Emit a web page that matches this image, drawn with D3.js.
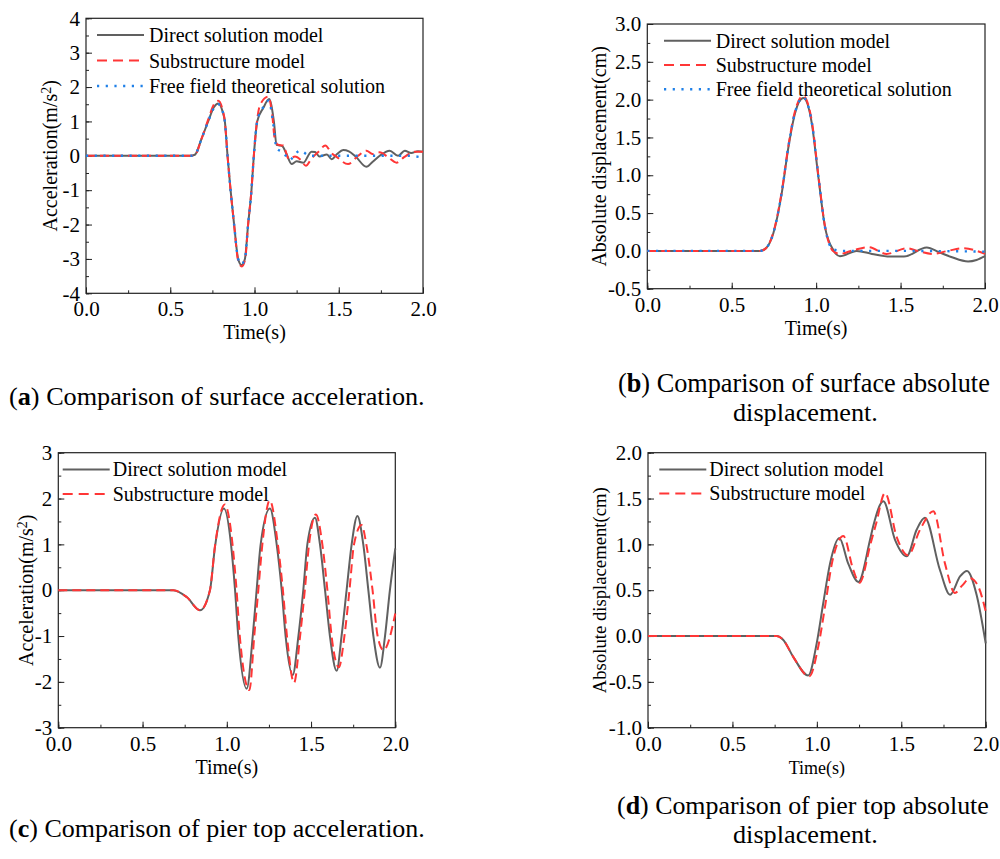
<!DOCTYPE html>
<html>
<head>
<meta charset="utf-8">
<script src="https://cdn.jsdelivr.net/npm/d3@7"></script>
<style>
  body { margin: 0; background: #fff; }
  svg { display: block; }
  text { font-family: "Liberation Serif", "Times New Roman", serif; fill: #000; }
</style>
</head>
<body>
<svg width="1000" height="859"></svg>
<script>
// ---- data ----
var xTicks = [0, 0.5, 1, 1.5, 2];
var aTicks = [-4, -3, -2, -1, 0, 1, 2, 3, 4];
var bTicks = [-0.5, 0, 0.5, 1, 1.5, 2, 2.5, 3];
var cTicks = [-3, -2, -1, 0, 1, 2, 3];
var dTicks = [-1, -0.5, 0, 0.5, 1, 1.5, 2];

var seriesNames = ['Direct solution model', 'Substructure model', 'Free field theoretical solution'];

// (a) surface acceleration, m/s2
var aDirectT = [0, 0.62, 0.646, 0.686, 0.725, 0.76, 0.785, 0.81, 0.824, 0.840, 0.858, 0.879, 0.903, 0.923, 0.943, 0.962, 0.982, 0.996, 1.016, 1.051, 1.087, 1.115, 1.131, 1.15, 1.165, 1.19, 1.22, 1.25, 1.29, 1.338, 1.36, 1.385, 1.43, 1.457, 1.49, 1.526, 1.56, 1.60, 1.664, 1.70, 1.743, 1.802, 1.852, 1.892, 1.93, 1.97, 2.0];
var aDirectV = [0, 0, 0.03, 0.5, 1.0, 1.42, 1.52, 1.3, 1.0, 0, -1.0, -2.0, -3.0, -3.18, -3.0, -2.0, -1.0, 0, 1.0, 1.38, 1.65, 1.0, 0.32, 0.3, 0.28, 0.05, -0.24, -0.16, -0.2, 0.12, 0.11, -0.02, 0.04, -0.1, 0.05, 0.17, 0.13, -0.02, -0.32, -0.18, 0.0, 0.15, 0.0, 0.15, 0.08, 0.13, 0.12];
var aSubT = [0, 0.62, 0.646, 0.686, 0.725, 0.76, 0.785, 0.81, 0.824, 0.840, 0.858, 0.879, 0.903, 0.925, 0.945, 0.962, 0.982, 0.996, 1.016, 1.032, 1.081, 1.105, 1.12, 1.14, 1.17, 1.205, 1.24, 1.275, 1.305, 1.338, 1.38, 1.42, 1.457, 1.487, 1.555, 1.615, 1.664, 1.70, 1.743, 1.79, 1.843, 1.89, 1.95, 2.0];
var aSubV = [0, 0, 0.02, 0.5, 1.05, 1.5, 1.6, 1.35, 1.0, 0, -1.0, -2.0, -3.05, -3.22, -3.0, -2.0, -1.0, 0, 1.05, 1.47, 1.72, 1.2, 0.5, 0.32, 0.3, -0.1, -0.02, -0.12, -0.29, -0.08, 0.12, 0.3, 0.08, -0.03, -0.24, 0.0, 0.15, 0.05, 0.1, -0.03, -0.2, -0.03, 0.12, 0.12];
var aFreeT = [0, 0.62, 0.646, 0.686, 0.725, 0.76, 0.785, 0.81, 0.824, 0.840, 0.858, 0.879, 0.903, 0.922, 0.943, 0.962, 0.982, 0.996, 1.016, 1.05, 1.085, 1.111, 1.131, 1.17, 1.21, 1.24, 1.27, 1.33, 1.9, 2.0];
var aFreeV = [0, 0, 0.03, 0.5, 1.0, 1.4, 1.5, 1.3, 1.0, 0, -1.0, -2.0, -3.0, -3.15, -3.0, -2.0, -1.0, 0, 1.0, 1.4, 1.6, 0.94, 0.22, 0.1, -0.12, 0.05, 0.15, 0, 0, -0.05];

// (b) surface absolute displacement, cm
var bDirectT = [0, 0.667, 0.70, 0.746, 0.796, 0.835, 0.875, 0.924, 0.974, 1.013, 1.052, 1.102, 1.141, 1.24, 1.33, 1.437, 1.52, 1.655, 1.73, 1.80, 1.90, 1.95, 2.0];
var bDirectV = [0, 0, 0.03, 0.23, 0.76, 1.36, 1.82, 2.02, 1.69, 0.98, 0.32, 0.01, -0.07, 0.0, -0.04, -0.075, -0.075, 0.044, -0.02, -0.08, -0.14, -0.12, -0.07];
var bSubT = [0, 0.667, 0.70, 0.746, 0.796, 0.835, 0.875, 0.922, 0.974, 1.013, 1.052, 1.10, 1.141, 1.22, 1.31, 1.418, 1.536, 1.60, 1.69, 1.78, 1.87, 2.0];
var bSubV = [0, 0, 0.03, 0.24, 0.78, 1.38, 1.85, 2.05, 1.72, 1.0, 0.33, 0.0, -0.04, 0.01, 0.05, -0.04, 0.035, 0.0, -0.04, 0.0, 0.035, -0.04];
var bFreeT = [0, 0.667, 0.70, 0.746, 0.796, 0.835, 0.875, 0.924, 0.974, 1.013, 1.052, 1.10, 1.16, 1.5, 2.0];
var bFreeV = [0, 0, 0.03, 0.23, 0.77, 1.37, 1.83, 2.03, 1.7, 0.99, 0.32, 0.02, 0.0, 0.0, -0.01];

// (c) pier top acceleration, m/s2
var cDirectT = [0, 0.683, 0.762, 0.841, 0.9, 0.93, 0.983, 1.025, 1.049, 1.068, 1.118, 1.154, 1.177, 1.201, 1.256, 1.296, 1.326, 1.349, 1.391, 1.425, 1.454, 1.478, 1.523, 1.553, 1.583, 1.612, 1.652, 1.681, 1.711, 1.741, 1.775, 1.81, 1.84, 1.87, 1.909, 1.939, 1.968, 2.0];
var cDirectV = [0, 0, -0.15, -0.44, 0, 0.95, 1.78, 1, 0, -1, -2.15, -1, 0, 1, 1.78, 1, 0, -1, -1.85, -1, 0, 1, 1.58, 1, 0, -1, -1.76, -1, 0, 1, 1.62, 1, 0, -1, -1.69, -1, 0, 0.91];
var cSubT = [0, 0.683, 0.762, 0.841, 0.9, 0.93, 0.988, 1.034, 1.058, 1.077, 1.134, 1.163, 1.187, 1.211, 1.255, 1.303, 1.333, 1.357, 1.399, 1.435, 1.463, 1.488, 1.529, 1.567, 1.597, 1.622, 1.665, 1.698, 1.728, 1.755, 1.80, 1.828, 1.865, 1.895, 1.93, 2.0];
var cSubV = [0, 0, -0.15, -0.44, 0, 0.97, 1.87, 1, 0, -1, -2.18, -1, 0, 1, 1.96, 1, 0, -1, -2.02, -1, 0, 1, 1.65, 1, 0, -1, -1.68, -1, 0, 1, 1.42, 1, 0, -1, -1.31, -0.51];

// (d) pier top absolute displacement, cm
var dDirectT = [0, 0.762, 0.80, 0.861, 0.949, 0.999, 1.038, 1.078, 1.133, 1.186, 1.246, 1.315, 1.334, 1.394, 1.463, 1.532, 1.591, 1.64, 1.729, 1.789, 1.848, 1.889, 1.946, 2.0];
var dDirectV = [0, 0, -0.04, -0.23, -0.43, -0.08, 0.36, 0.79, 1.07, 0.79, 0.59, 1.05, 1.2, 1.47, 1.05, 0.87, 1.16, 1.29, 0.72, 0.45, 0.65, 0.71, 0.45, -0.08];
var dSubT = [0, 0.762, 0.80, 0.861, 0.955, 1.01, 1.05, 1.09, 1.157, 1.216, 1.252, 1.32, 1.35, 1.404, 1.473, 1.54, 1.611, 1.69, 1.759, 1.818, 1.86, 1.907, 1.956, 2.0];
var dSubV = [0, 0, -0.04, -0.23, -0.44, -0.1, 0.34, 0.8, 1.09, 0.72, 0.58, 1.02, 1.22, 1.56, 1.08, 0.88, 1.16, 1.36, 0.79, 0.47, 0.55, 0.63, 0.54, 0.27];

var captionA = ['(', 'a', ') Comparison of surface acceleration.'];
var captionB = ['(', 'b', ') Comparison of surface absolute', 'displacement.'];
var captionC = ['(', 'c', ') Comparison of pier top acceleration.'];
var captionD = ['(', 'd', ') Comparison of pier top absolute', 'displacement.'];

// ---- styles ----
var lineColors = ['#606060', '#ff3636', '#1f80e8'];
var lineDash = [null, '9,5', '2.2,6.5'];
var lineWidth = [2, 2, 2.4];

var svg = d3.select('svg');
var locale = d3.formatLocale({decimal: '.', thousands: ',', grouping: [3], currency: ['', ''], minus: '-'});

function drawPanel(p){
  var x = d3.scaleLinear().domain([0, 2]).range([p.left, p.right]);
  var y = d3.scaleLinear().domain(d3.extent(p.yTicks)).range([p.bottom, p.top]);
  var g = svg.append('g');
  var yFmt = locale.format(p.yFormat);

  // minor ticks (inside)
  g.append('g').attr('transform', 'translate(0,' + p.bottom + ')')
    .call(d3.axisBottom(x).tickValues(d3.range(0, 2.001, 0.25)).tickSize(-3).tickFormat(''))
    .call(function(s){ s.select('.domain').remove(); });
  g.append('g').attr('transform', 'translate(' + p.left + ',0)')
    .call(d3.axisLeft(y).tickValues(d3.range(p.yTicks[0], p.yTicks[p.yTicks.length-1] + 1e-6, p.yMinor)).tickSize(-3).tickFormat(''))
    .call(function(s){ s.select('.domain').remove(); });

  // major ticks + labels
  var xa = g.append('g').attr('transform', 'translate(0,' + p.bottom + ')')
    .call(d3.axisBottom(x).tickValues(xTicks).tickSize(-6).tickPadding(8).tickFormat(locale.format('.1f')));
  var ya = g.append('g').attr('transform', 'translate(' + p.left + ',0)')
    .call(d3.axisLeft(y).tickValues(p.yTicks).tickSize(-6).tickPadding(6).tickFormat(yFmt));
  [xa, ya].forEach(function(a){
    a.select('.domain').remove();
    a.selectAll('text').style('font-size', '21px').style('font-family', '"Liberation Serif", serif');
  });
  g.selectAll('.tick line').attr('stroke', '#222').attr('stroke-width', 1);

  // frame
  g.append('rect')
    .attr('x', p.left).attr('y', p.top)
    .attr('width', p.right - p.left).attr('height', p.bottom - p.top)
    .attr('fill', 'none').attr('stroke', '#222').attr('stroke-width', 1.2);

  // curves
  var line = d3.line()
    .x(function(d){ return x(d[0]); })
    .y(function(d){ return y(d[1]); })
    .curve(d3.curveMonotoneX);
  p.series.forEach(function(s, i){
    g.append('path')
      .datum(d3.zip(s[0], s[1]))
      .attr('d', line)
      .attr('fill', 'none')
      .attr('stroke', lineColors[i])
      .attr('stroke-width', lineWidth[i])
      .attr('stroke-dasharray', lineDash[i]);
  });

  // legend
  p.series.forEach(function(s, i){
    var ly = p.top + 16.7 + i * p.legendGap;
    g.append('line')
      .attr('x1', p.left + p.legendLine).attr('x2', p.left + p.legendLine + 47)
      .attr('y1', ly).attr('y2', ly)
      .attr('stroke', lineColors[i]).attr('stroke-width', lineWidth[i])
      .attr('stroke-dasharray', i === 0 ? null : (i === 1 ? '10,6' : '2.2,6.5'));
    g.append('text')
      .attr('x', p.left + p.legendText).attr('y', ly).attr('dy', '0.35em')
      .style('font-size', '20px')
      .text(seriesNames[i]);
  });

  // axis titles
  g.append('text')
    .attr('x', (p.left + p.right) / 2).attr('y', p.bottom + 46)
    .attr('text-anchor', 'middle')
    .style('font-size', p.titleSize + 'px')
    .text('Time(s)');
  var yt = g.append('text')
    .attr('transform', 'translate(' + (p.left - p.yTitleOffset) + ',' + ((p.top + p.bottom) / 2) + ') rotate(-90)')
    .attr('text-anchor', 'middle').attr('dy', '0.35em')
    .style('font-size', p.yTitleSize + 'px');
  if (p.superscript) {
    yt.append('tspan').text(p.yTitle);
    yt.append('tspan').attr('dy', '-0.45em').style('font-size', '0.7em').text('2');
    yt.append('tspan').attr('dy', '0.32em').text(')');
  } else {
    yt.text(p.yTitle);
  }
}

drawPanel({left: 86, right: 423, top: 18.3, bottom: 293.3, yTicks: aTicks, yMinor: 0.5, yFormat: 'd',
  series: [[aDirectT, aDirectV], [aSubT, aSubV], [aFreeT, aFreeV]],
  legendLine: 11, legendText: 63, legendGap: 25.5, titleSize: 20,
  yTitle: 'Acceleration(m/s', superscript: true, yTitleOffset: 36, yTitleSize: 20});
drawPanel({left: 647.3, right: 985, top: 24, bottom: 288.7, yTicks: bTicks, yMinor: 0.25, yFormat: '.1f',
  series: [[bDirectT, bDirectV], [bSubT, bSubV], [bFreeT, bFreeV]],
  legendLine: 16.7, legendText: 68.4, legendGap: 24.3, titleSize: 20,
  yTitle: 'Absolute displacement(cm)', yTitleOffset: 48, yTitleSize: 20});
drawPanel({left: 58.3, right: 395.3, top: 452.7, bottom: 727.7, yTicks: cTicks, yMinor: 0.5, yFormat: 'd',
  series: [[cDirectT, cDirectV], [cSubT, cSubV]],
  legendLine: 4.4, legendText: 54.4, legendGap: 24.7, titleSize: 20,
  yTitle: 'Acceleration(m/s', superscript: true, yTitleOffset: 32, yTitleSize: 20});
drawPanel({left: 648, right: 985.7, top: 452.7, bottom: 727.7, yTicks: dTicks, yMinor: 0.25, yFormat: '.1f',
  series: [[dDirectT, dDirectV], [dSubT, dSubV]],
  legendLine: 11.3, legendText: 61.3, legendGap: 24, titleSize: 18,
  yTitle: 'Absolute displacement(cm)', yTitleOffset: 49, yTitleSize: 18.7});

// captions: fit each line to the width it has in the figure
function caption(parts, x0, x1, y){
  var t = svg.append('text').attr('x', x0).attr('y', y).style('font-size', '22px');
  if (parts.length === 1) {
    t.text(parts[0]);
  } else {
    t.append('tspan').text(parts[0]);
    t.append('tspan').style('font-weight', 'bold').text(parts[1]);
    t.append('tspan').text(parts[2]);
  }
  var w = t.node().getComputedTextLength();
  t.style('font-size', (22 * (x1 - x0) / w) + 'px');
}
caption(captionA, 9, 425, 405);
caption(captionB.slice(0, 3), 618, 990, 392);
caption([captionB[3]], 733, 878, 421);
caption(captionC, 9, 425, 836.5);
caption(captionD.slice(0, 3), 617, 989, 813.5);
caption([captionD[3]], 733, 878, 842.5);
</script>
</body>
</html>
